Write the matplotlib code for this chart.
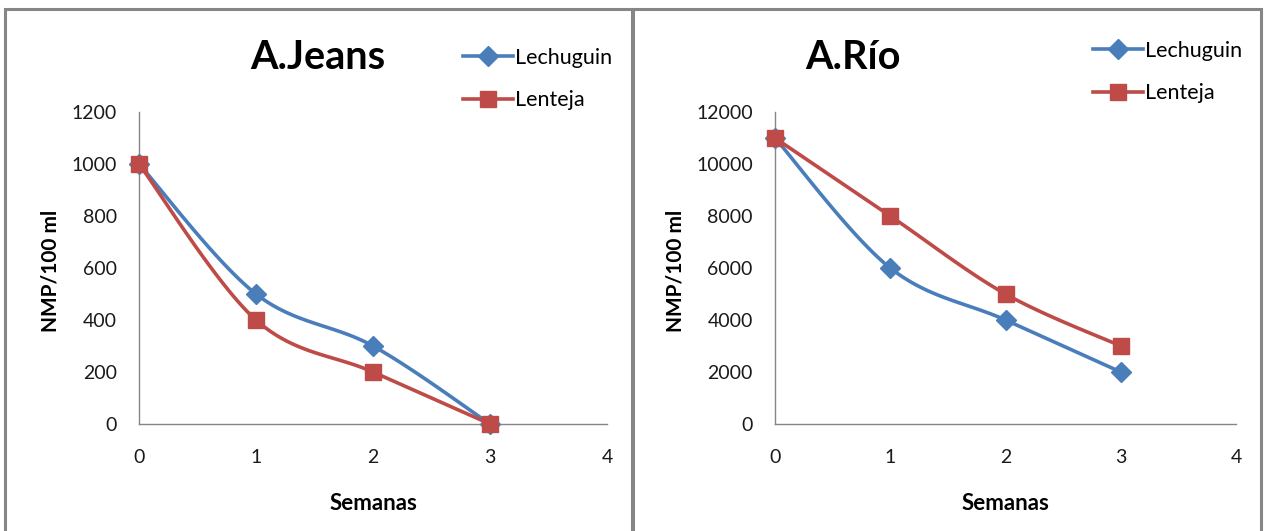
import numpy as np
import matplotlib
matplotlib.use("Agg")
import matplotlib.pyplot as plt
from matplotlib.lines import Line2D
from matplotlib.patches import Rectangle

plt.rcParams['font.family'] = ['Lato', 'DejaVu Sans']

semanas = [0, 1, 2, 3]
series_names = ["Lechuguin", "Lenteja"]

jeans_lechuguin = [1000, 500, 300, 0]
jeans_lenteja = [1000, 400, 200, 0]
rio_lechuguin = [11000, 6000, 4000, 2000]
rio_lenteja = [11000, 8000, 5000, 3000]

jeans_yticks = [0, 200, 400, 600, 800, 1000, 1200]
rio_yticks = [0, 2000, 4000, 6000, 8000, 10000, 12000]
xticks = [0, 1, 2, 3, 4]

BLUE = "#4A7EBB"
RED = "#BE4B48"
GRID = "#868686"


def smooth(xs, ys, n=40):
    """Catmull-Rom style Bezier smoothing through the points."""
    p = np.column_stack([xs, ys]).astype(float)
    ext = np.vstack([p[0], p, p[-1]])
    out = []
    t = np.linspace(0, 1, n)[:, None]
    for i in range(len(p) - 1):
        p0, p1, p2, p3 = ext[i], ext[i + 1], ext[i + 2], ext[i + 3]
        c1 = p1 + (p2 - p0) / 6.0
        c2 = p2 - (p3 - p1) / 6.0
        seg = ((1 - t) ** 3) * p1 + 3 * ((1 - t) ** 2) * t * c1 \
            + 3 * (1 - t) * t ** 2 * c2 + t ** 3 * p2
        out.append(seg if i == 0 else seg[1:])
    s = np.vstack(out)
    return s[:, 0], s[:, 1]


W, H = 1264, 531
fig = plt.figure(figsize=(W / 100, H / 100), dpi=100)

# panel frames
for x0, x1 in [(5, 632), (633, 1261)]:
    fig.patches.append(Rectangle((x0 / W, -0.05), (x1 - x0) / W, 1 - 9 / H + 0.05,
                                 transform=fig.transFigure, fill=False,
                                 edgecolor=GRID, linewidth=2.2))


def panel(rect, title, ya, yb, yticks, title_x, ylab_x, leg_anchor):
    ax = fig.add_axes(rect)
    ax.set_xlim(0, 4)
    ax.set_ylim(yticks[0], yticks[-1])
    ax.set_xticks(xticks)
    ax.set_yticks(yticks)
    for s in ["top", "right"]:
        ax.spines[s].set_visible(False)
    for s in ["left", "bottom"]:
        ax.spines[s].set_color(GRID)
        ax.spines[s].set_linewidth(1.0)
    ax.tick_params(length=0, labelsize=14, colors="#1a1a1a")
    ax.tick_params(axis="y", pad=16)
    ax.tick_params(axis="x", pad=18)

    for vals, col, mk, ms in [(ya, BLUE, "D", 10), (yb, RED, "s", 12)]:
        sx, sy = smooth(semanas, vals)
        ax.plot(sx, sy, color=col, lw=2.6, clip_on=False, zorder=3)
        ax.plot(semanas, vals, ls="none", marker=mk, ms=ms, color=col,
                clip_on=False, zorder=4)

    ax.text(title_x, 1.176, title, transform=ax.transAxes, ha="center",
            va="center", fontsize=28.5, fontweight="bold")
    ax.set_ylabel("NMP/100 ml", fontsize=15, fontweight="bold")
    ax.yaxis.set_label_coords(ylab_x, 0.49)
    ax.set_xlabel("Semanas", fontsize=16, fontweight="bold")
    ax.xaxis.set_label_coords(0.5, -0.221)

    handles = [Line2D([], [], color=BLUE, lw=2.6, marker="D", ms=10),
               Line2D([], [], color=RED, lw=2.6, marker="s", ms=12)]
    ax.legend(handles, series_names, loc="center left", bbox_to_anchor=leg_anchor,
              frameon=False, fontsize=15.5, handlelength=2.3, handletextpad=0.1,
              labelspacing=1.05, borderpad=0, borderaxespad=0)
    return ax


panel([139 / W, 1 - 424 / H, 468 / W, 312 / H], "A.Jeans",
      jeans_lechuguin, jeans_lenteja, jeans_yticks, 0.382, -0.168,
      ((463 - 139) / 468, (424 - 79) / 312))
panel([775 / W, 1 - 424 / H, 461 / W, 312 / H], "A.Río",
      rio_lechuguin, rio_lenteja, rio_yticks, 0.169, -0.195,
      ((1093 - 775) / 461, (424 - 72) / 312))

fig.savefig("out.png", dpi=100)
